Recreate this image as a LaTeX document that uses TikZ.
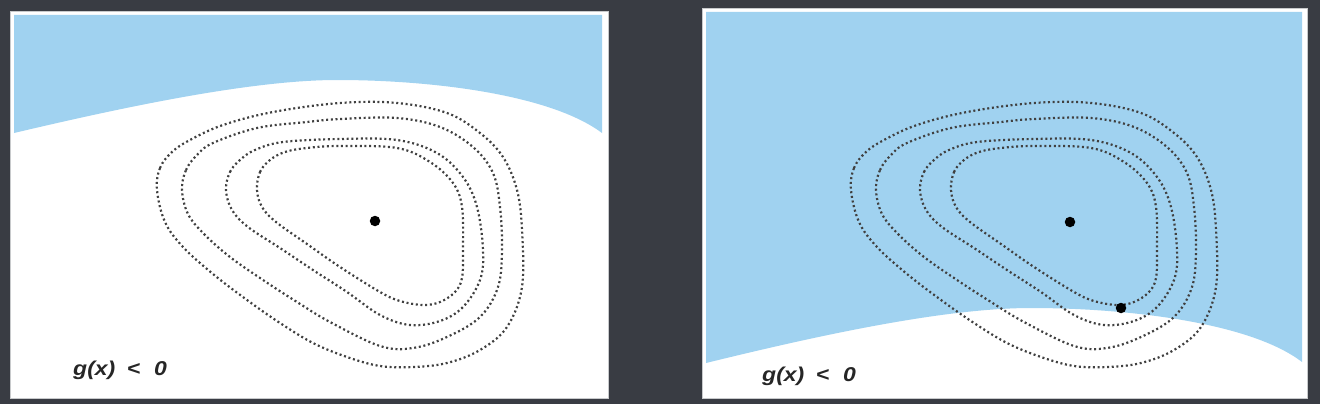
\documentclass[tikz,border=0pt]{standalone}
\usepackage{fontspec}
\setmainfont{Liberation Sans}
\definecolor{bg}{HTML}{393C43}
\definecolor{sky}{HTML}{A0D2F0}
\definecolor{frame}{HTML}{C8CACC}
\newcommand{\mycontours}{%
  \draw[contour] plot[smooth cycle, tension=0.6] coordinates {(157,190) (160,168) (172,152) (190,140) (223,125) (273,112) (340,103) (397,103) (447,113) (480,133) (503,157) (517,190) (522,230) (522,287) (507,327) (480,350) (447,363) (413,367) (380,366) (347,357) (313,343) (280,323) (247,300) (213,274) (183,247) (165,222)};
  \draw[contour] plot[smooth cycle, tension=0.6] coordinates {(182,190) (186,170) (197,155) (213,143) (257,128) (307,122) (340,119) (397,118) (440,127) (473,147) (493,173) (500,207) (502,250) (498,287) (480,317) (447,337) (413,348) (380,346) (330,322) (297,302) (263,280) (230,257) (204,234) (188,214)};
  \draw[contour] plot[smooth cycle, tension=0.6] coordinates {(226,190) (230,172) (240,160) (255,150) (283,142) (340,139) (397,140) (437,153) (463,177) (477,207) (483,250) (480,280) (463,307) (440,321) (410,325) (380,315) (347,292) (313,270) (280,248) (248,227) (232,210)};
  \draw[contour] plot[smooth cycle, tension=0.6] coordinates {(257,190) (260,172) (270,160) (285,152) (307,148) (340,146) (397,148) (430,162) (453,183) (462,207) (463,250) (462,278) (455,292) (440,302) (423,305) (400,301) (380,292) (340,267) (307,244) (276,222) (262,207)};
}
\begin{document}
\begin{tikzpicture}[x=1pt,y=-1pt,
  contour/.style={draw=black!75, line width=2.2pt, dash pattern=on 2pt off 2.7pt},
  panel/.style={fill=white, draw=frame, line width=0.8pt},
  dotmark/.style={circle, fill=black, minimum size=10.5pt, inner sep=0pt},
  lbl/.style={font=\fontsize{20}{22}\selectfont\bfseries\itshape, text=black!85, inner sep=0pt, xscale=1.15, transform shape}]
\useasboundingbox (0,0) rectangle (1320,404);
\fill[bg] (0,0) rectangle (1320,404);
% left panel
\draw[panel] (10,11) rectangle (608,398);
\fill[sky] (14,15) -- (602,15) -- (602,133) .. controls (550,94) and (430,80) .. (337,80) .. controls (250,80) and (120,108) .. (14,133) -- cycle;
\mycontours
\node[dotmark] (m1) at (375,221) {};
\node[lbl, anchor=base west] (t1) at (73,375) {g(x)\hspace{10pt}<\hspace{12pt}0};
% right panel
\draw[panel] (702,8) rectangle (1307,398);
\fill[sky] (706,12) -- (1302,12) -- (1302,362) .. controls (1250,322) and (1125,308) .. (1031,308) .. controls (942,308) and (812,337) .. (706,363) -- cycle;
\begin{scope}[xshift=694]
\mycontours
\end{scope}
\node[dotmark] (m2) at (1070,222) {};
\node[dotmark] (m3) at (1121,308) {};
\node[lbl, anchor=base west] (t2) at (762,381) {g(x)\hspace{10pt}<\hspace{12pt}0};
\end{tikzpicture}
\end{document}
